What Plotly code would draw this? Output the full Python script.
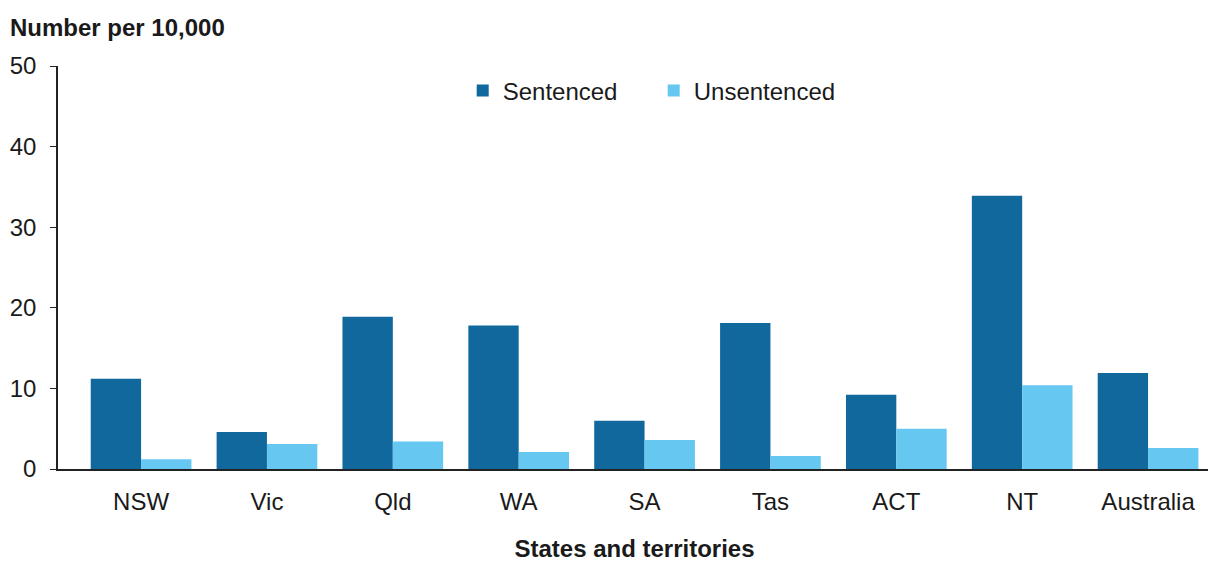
import plotly.graph_objects as go

states = ["NSW", "Vic", "Qld", "WA", "SA", "Tas", "ACT", "NT", "Australia"]
sentenced = [11.2, 4.6, 18.9, 17.8, 6.0, 18.1, 9.2, 33.9, 11.9]
unsentenced = [1.2, 3.1, 3.4, 2.1, 3.6, 1.6, 5.0, 10.4, 2.6]
y_ticks = [0, 10, 20, 30, 40, 50]

DARK = "#10689c"
LIGHT = "#66c7f0"
FONT = "Liberation Sans, Arial, sans-serif"

fig = go.Figure()
fig.add_trace(go.Bar(name="Sentenced", x=states, y=sentenced, marker=dict(color=DARK, line_width=0)))
fig.add_trace(go.Bar(name="Unsentenced", x=states, y=unsentenced, marker=dict(color=LIGHT, line_width=0)))

# page body has an 8px margin, so the figure is sized to fit the window
fig.update_layout(
    width=1208, height=554,
    barmode="group", bargap=0.2, bargroupgap=0,
    margin=dict(l=50, r=5, t=58, b=93, autoexpand=False),
    plot_bgcolor="white", paper_bgcolor="white",
    font=dict(family=FONT, size=24, color="#1a1a1a"),
    legend=dict(orientation="h", x=0.351, y=0.938, xanchor="left", yanchor="middle",
                font=dict(size=24), entrywidth=146, traceorder="normal"),
    annotations=[dict(text="<b>Number per 10,000</b>", x=-50/1153, y=1 + 39/403,
                      xref="paper", yref="paper", showarrow=False,
                      xanchor="left", yanchor="middle", font=dict(size=24))],
)

fig.update_xaxes(
    range=[-0.66, 8.5], showline=True, linecolor="#222", linewidth=2,
    ticks="", tickfont=dict(size=24), ticklabelstandoff=10, automargin=False,
    title=dict(text="<b>States and territories</b>", font=dict(size=24), standoff=33),
)
fig.update_yaxes(
    range=[0, 50], tickvals=y_ticks, showgrid=False, zeroline=False,
    showline=True, linecolor="#222", linewidth=1.5, automargin=False,
    ticks="outside", ticklen=6, tickcolor="#222", tickfont=dict(size=24),
    ticklabelstandoff=9,
)

fig.write_html("out.html")
